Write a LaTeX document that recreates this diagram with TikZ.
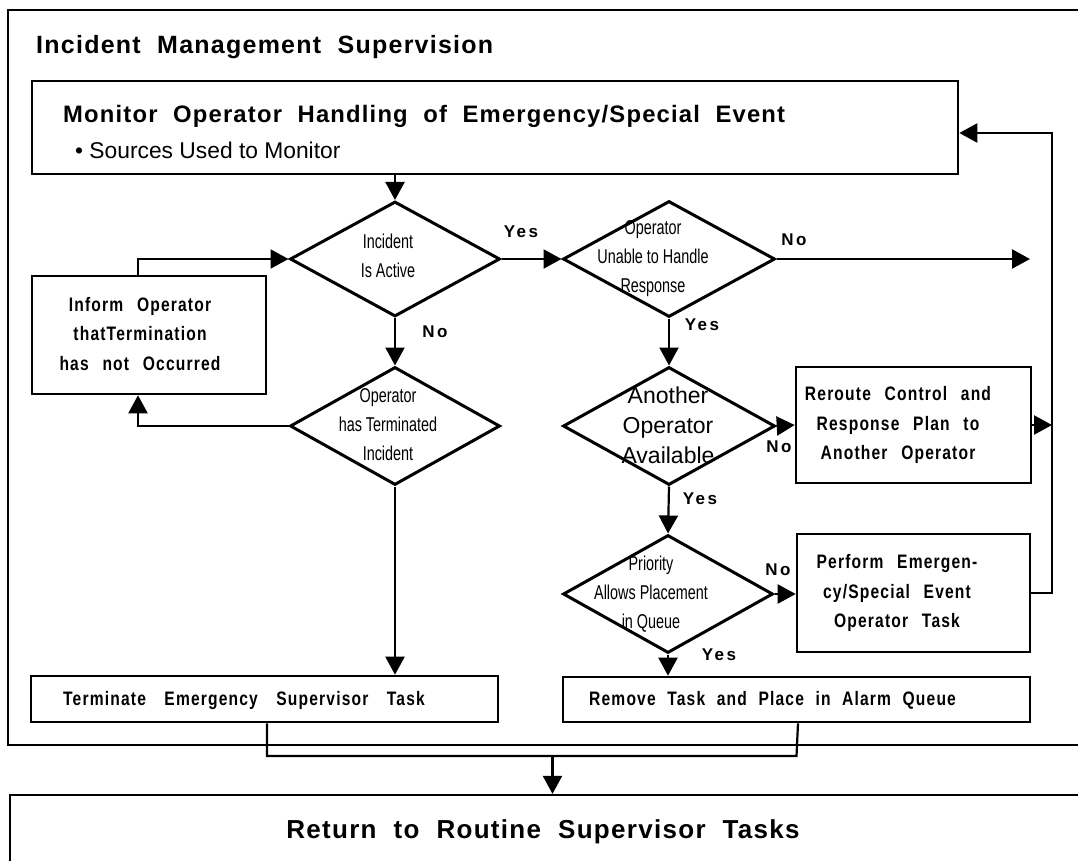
\documentclass[tikz,border=0pt]{standalone}
\usepackage{fontspec}
\usetikzlibrary{shapes.geometric,arrows.meta}
\setmainfont{Liberation Sans}
\newfontfamily\bigbold[LetterSpace=5,WordSpace=2]{Liberation Sans}
\newfontfamily\boxfont[FakeStretch=0.8,LetterSpace=6,WordSpace=2.5]{Liberation Sans}
\newfontfamily\diafont[FakeStretch=0.72]{Liberation Sans}
\newfontfamily\lblfont[LetterSpace=15]{Liberation Sans}
\tikzset{
  boxnode/.style={draw,line width=2.6pt,rectangle,inner sep=0pt},
  dianode/.style={draw,line width=3pt,diamond,inner sep=0pt},
  bigtext/.style={inner sep=0pt,font=\bigbold\bfseries\fontsize{26}{28}\selectfont},
  montext/.style={inner sep=0pt,font=\bigbold\bfseries\fontsize{23.8}{26}\selectfont},
  boxtext/.style={inner sep=0pt,align=center,font=\boxfont\bfseries\fontsize{19.5}{29.5}\selectfont},
  diatext/.style={inner sep=0pt,align=center,font=\diafont\fontsize{20}{29}\selectfont},
  lbl/.style={inner sep=0pt,font=\lblfont\bfseries\fontsize{17}{19}\selectfont},
  arr/.style={line width=2.2pt,-{Triangle[length=18pt,width=19pt]}},
  conn/.style={line width=2.2pt}
}
\begin{document}
\begin{tikzpicture}[x=1pt,y=-1pt]
\useasboundingbox (0,0) rectangle (1078,861);
\clip (0,0) rectangle (1078,861);
% containers
\node[boxnode,line width=2.2pt,minimum width=1087pt,minimum height=735pt] (outer) at (551.5,377.5) {};
\node[bigtext,anchor=west,font=\bigbold\bfseries\fontsize{25}{27}\selectfont] (title) at (36,47) {Incident Management Supervision};
\node[boxnode,line width=2.2pt,minimum width=1085pt,minimum height=85pt] (ret) at (552.5,837.5) {};
\node[bigtext] (rettext) at (543,832) {Return to Routine Supervisor Tasks};
% monitor
\node[boxnode,minimum width=926pt,minimum height=93pt] (mon) at (495,127.5) {};
\node[montext,anchor=west] (mon1) at (63,116) {Monitor Operator Handling of Emergency/Special Event};
\node[inner sep=0pt,anchor=west,font=\fontsize{22.8}{24}\selectfont] (mon2) at (75,150) {\textbullet\ Sources Used to Monitor};
% diamonds
\node[dianode,minimum width=210pt,minimum height=115pt] (d1) at (395,259) {};
\node[diatext] (d1t) at (388,256) {Incident\\Is Active};
\node[dianode,minimum width=210pt,minimum height=118pt] (d2) at (395,426) {};
\node[diatext] (d2t) at (388,425) {Operator\\has Terminated\\Incident};
\node[dianode,minimum width=212pt,minimum height=116pt] (d3) at (669,259) {};
\node[diatext] (d3t) at (653,259) {Operator\\Unable to Handle\\Response};
\node[dianode,minimum width=212pt,minimum height=118pt] (d4) at (669,426) {};
\node[inner sep=0pt,align=center,font=\fontsize{23}{30}\selectfont] (d4t) at (668,425) {Another\\Operator\\Available};
\node[dianode,minimum width=210pt,minimum height=118pt] (d5) at (668,594) {};
\node[diatext] (d5t) at (651,594) {Priority\\Allows Placement\\in Queue};
% boxes
\node[boxnode,minimum width=234pt,minimum height=118pt] (inform) at (149,335) {};
\node[boxtext] (informt) at (140,334) {Inform Operator\\thatTermination\\has not Occurred};
\node[boxnode,minimum width=467pt,minimum height=46pt] (term) at (264.5,699) {};
\node[boxtext,anchor=west] (termt) at (63,700) {\spaceskip=18.5pt Terminate Emergency Supervisor Task};
\node[boxnode,minimum width=235pt,minimum height=116pt] (rer) at (913.5,425) {};
\node[boxtext] (rert) at (898,425) {Reroute Control and\\Response Plan to\\Another Operator};
\node[boxnode,minimum width=233pt,minimum height=118pt] (perf) at (913.5,593) {};
\node[boxtext] (perft) at (897,593) {Perform Emergen-\\cy/Special Event\\Operator Task};
\node[boxnode,minimum width=467pt,minimum height=45pt] (rem) at (796.5,699.5) {};
\node[boxtext,anchor=west] (remt) at (589,700) {\spaceskip=11.6pt Remove Task and Place in Alarm Queue};
% coordinates
\coordinate (rr) at (1052,133);
\coordinate (noend) at (1030,259);
\coordinate (jn) at (0,756);
% connectors
\draw[arr] (mon.south -| d1.north) -- (d1.north);
\draw[arr] (d1.east) -- (d3.west);
\draw[arr] (d3.east) -- (noend);
\draw[arr] (d3.south) -- (d4.north);
\draw[arr] (d4.east) -- (rer.west);
\draw[arr] (d4.south) -- (d5.north);
\draw[arr] (d5.east) -- (d5.east -| perf.west);
\draw[arr] (d5.south) -- (d5.south |- rem.north);
\draw[arr] (d1.south) -- (d2.north);
\draw[arr] (d2.south) -- (d2.south |- term.north);
\draw[arr] (d2.west) -| ([xshift=-11pt]inform.south);
\draw[arr] ([xshift=-11pt]inform.north) |- (d1.west);
\draw[arr] (perf.east) -| (rr) -- (rr -| mon.east);
\draw[arr] (rer.east) -- (rer.east -| rr);
\draw[conn] ([xshift=2.5pt]term.south) |- (jn -| rem.south) -- ([xshift=1.5pt]rem.south);
\draw[arr] (jn -| ret.north) -- (ret.north);
% labels
\node[lbl] (y1) at (521,232) {Yes};
\node[lbl] (n1) at (435,332) {No};
\node[lbl] (n3) at (794,240) {No};
\node[lbl] (y3) at (702,325) {Yes};
\node[lbl] (n4) at (779,447) {No};
\node[lbl] (y4) at (700,499) {Yes};
\node[lbl] (n5) at (778,570) {No};
\node[lbl] (y5) at (719,655) {Yes};
\end{tikzpicture}
\end{document}
